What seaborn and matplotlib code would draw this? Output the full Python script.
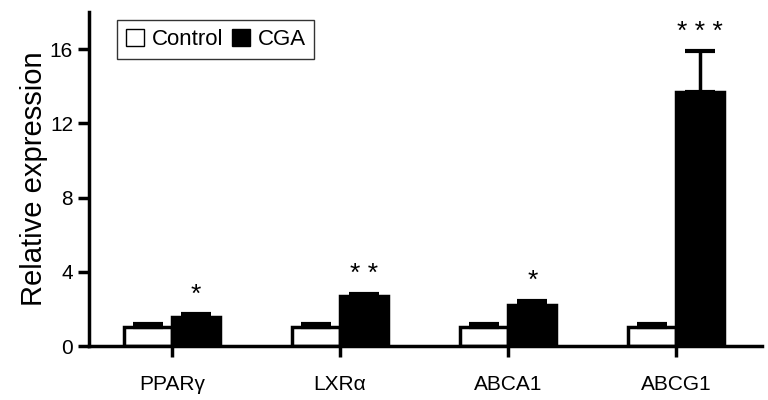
import matplotlib
matplotlib.use("Agg")
import matplotlib.pyplot as plt
from matplotlib.patches import Patch
import pandas as pd
import seaborn as sns

genes = ["PPARγ", "LXRα", "ABCA1", "ABCG1"]
groups = ["Control", "CGA"]
control_mean = [1.05, 1.05, 1.05, 1.05]
control_err = [0.12, 0.12, 0.12, 0.12]
cga_mean = [1.55, 2.7, 2.2, 13.7]
cga_err = [0.15, 0.12, 0.25, 2.2]
stars = ["*", "**", "*", "***"]
yticks = [0, 4, 8, 12, 16]

df = pd.DataFrame({
    "gene": genes * 2,
    "group": ["Control"] * 4 + ["CGA"] * 4,
    "value": control_mean + cga_mean,
    "err": control_err + cga_err,
})

sns.set_style("ticks")
plt.rcParams["font.family"] = ["Liberation Sans", "DejaVu Sans"]
plt.rcParams["text.color"] = "black"
plt.rcParams["axes.labelcolor"] = "black"
plt.rcParams["xtick.color"] = "black"
plt.rcParams["ytick.color"] = "black"
plt.rcParams["axes.edgecolor"] = "black"

fig = plt.figure(figsize=(7.68, 4.0), dpi=100)
ax = fig.add_axes([0.116, 0.135, 0.876, 0.835])

sns.barplot(data=df, x="gene", y="value", hue="group", order=genes,
            hue_order=groups, palette={"Control": "white", "CGA": "black"},
            width=0.575, edgecolor="black", linewidth=2.5, errorbar=None,
            legend=False, ax=ax)

# one-sided error bars on top of each bar
for i, grp in enumerate(groups):
    bars = ax.containers[i]
    sub = df[df["group"] == grp].set_index("gene").loc[genes]
    for rect, (val, err) in zip(bars, zip(sub["value"], sub["err"])):
        xc = rect.get_x() + rect.get_width() / 2
        ax.errorbar(xc, val, yerr=[[0], [err]], fmt="none", ecolor="black",
                    elinewidth=2.5, capsize=11, capthick=3, zorder=3)

# significance stars above the CGA bars
for j, (val, err, s) in enumerate(zip(cga_mean, cga_err, stars)):
    rect = ax.containers[1][j]
    xc = rect.get_x() + rect.get_width() / 2
    ax.text(xc, val + err + 0.4, " ".join(s), ha="center", va="bottom",
            fontsize=19)

ax.set_xlim(-0.494, 3.51)
ax.set_ylim(0, 18)
ax.set_yticks(yticks)
ax.set_xlabel("")
ax.set_ylabel("Relative expression", fontsize=21, labelpad=1)
ax.tick_params(axis="both", labelsize=15, width=2.5, length=8, direction="out")
ax.tick_params(axis="x", pad=13)
for side in ["top", "right"]:
    ax.spines[side].set_visible(False)
for side in ["left", "bottom"]:
    ax.spines[side].set_linewidth(2.5)

handles = [Patch(facecolor="white", edgecolor="black", linewidth=1),
           Patch(facecolor="black", edgecolor="black", linewidth=1)]
leg = ax.legend(handles, groups, loc="upper left", bbox_to_anchor=(0.025, 1.01),
                ncol=2, fontsize=16, frameon=True, fancybox=False,
                handlelength=0.8, handleheight=0.8, handletextpad=0.35,
                columnspacing=0.4, borderpad=0.4, edgecolor="black")
leg.get_frame().set_linewidth(1)

fig.savefig("out.png", dpi=100)
